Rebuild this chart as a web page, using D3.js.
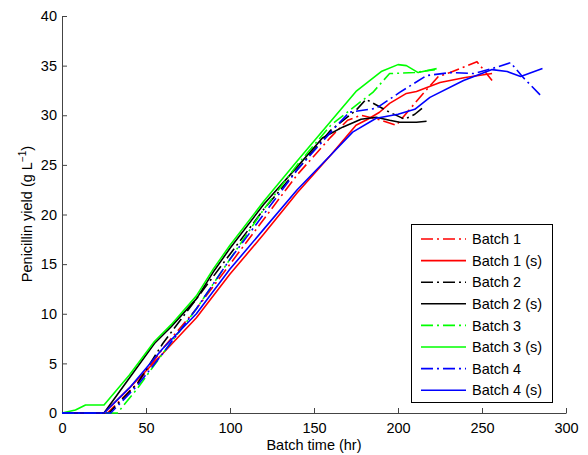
<!DOCTYPE html>
<html>
  <head>
    <meta charset="UTF-8">
    <title>Penicillin yield</title>
    <script src="https://d3js.org/d3.v7.min.js"></script>
    <style>
      body { margin: 0; background: #fff; }
      text { font-family: "Liberation Sans", Arial, Helvetica, sans-serif; }
    </style>
  </head>
  <body>
    <svg id="chart" width="588" height="455"></svg>
    <script>
      // [batch time (hr), yield (g/L)]
      const batch1 = [[0,0],[27,0],[45,3],[60,6.5],[80,10.5],[100,15],[120,19.5],[140,24],[160,27.8],[170,29.5],[178,30],[190,29.5],[199,29],[205,30.2],[215,32.2],[224,33.9],[231,34.3],[247,35.4],[256,33.5]];
      const batch1s = [[0,0],[25,0],[40,2.5],[60,6],[80,9.6],[100,14],[120,18],[140,22.2],[160,26],[175,29],[182,29.6],[189,30.3],[195,31.2],[205,32.2],[211,32.4],[225,33.3],[240,33.8],[256,34.2]];
      const batch2 = [[0,0],[28,0],[45,3],[60,7],[80,11.5],[100,16],[120,20.5],[140,24.5],[160,28.5],[175,30.5],[181,31.6],[195,30.3],[204,29.6],[210,30.1],[215,30.8]];
      const batch2s = [[0,0],[25,0],[40,3.5],[55,7],[65,8.7],[80,11.5],[90,14.2],[100,16.6],[120,21],[140,24.8],[155,27.7],[167,28.8],[178,29.6],[187,29.8],[195,29.5],[201,29.3],[211,29.3],[217,29.4]];
      const batch3 = [[0,0],[33,0],[45,2.5],[60,6],[80,10.5],[100,15.5],[120,20.5],[140,25],[160,29],[175,31],[185,32.3],[195,34.2],[210,34.3],[222,34.6]];
      const batch3s = [[0,0],[8,0.3],[14,0.8],[25,0.8],[40,3.8],[55,7.2],[65,8.9],[80,11.8],[90,14.5],[100,16.9],[120,21.3],[140,25.4],[160,29.4],[175,32.4],[190,34.4],[200,35.1],[205,35],[212,34.3],[223,34.7]];
      const batch4 = [[0,0],[29,0],[45,2.8],[60,6],[80,10.5],[100,15.5],[120,20],[140,24.5],[160,28.3],[171,30.3],[187,30.7],[201,32.3],[217,34],[231,34.3],[245,34.2],[256,34.7],[267,35.3],[274,33.9],[286,31.8]];
      const batch4s = [[0,0],[25,0],[40,2.5],[60,6.5],[80,10],[100,14.5],[120,18.5],[140,22.5],[160,26],[173,28.3],[187,29.7],[200,30.1],[210,30.6],[219,31.8],[239,33.5],[256,34.6],[265,34.4],[273,33.9],[286,34.7]];

      const seriesNames = ["Batch 1", "Batch 1 (s)", "Batch 2", "Batch 2 (s)", "Batch 3", "Batch 3 (s)", "Batch 4", "Batch 4 (s)"];
      const seriesData = [batch1, batch1s, batch2, batch2s, batch3, batch3s, batch4, batch4s];
      const seriesColors = ["#ff0000", "#ff0000", "#000000", "#000000", "#00ff00", "#00ff00", "#0000ff", "#0000ff"];
      const xTicks = [0, 50, 100, 150, 200, 250, 300];
      const yTicks = [0, 5, 10, 15, 20, 25, 30, 35, 40];

      const svg = d3.select("#chart");
      const x = d3.scaleLinear().domain([0, 300]).range([62, 566]);
      const y = d3.scaleLinear().domain([0, 40]).range([413, 16]);

      const dashDot = "12,4,2,4";

      // Axes (MATLAB style: ticks inside, no box)
      const xAxis = svg.append("g")
        .attr("transform", "translate(0,413)")
        .call(d3.axisBottom(x).tickValues(xTicks).tickSizeInner(-5).tickSizeOuter(0).tickPadding(10));
      const yAxis = svg.append("g")
        .attr("transform", "translate(62,0)")
        .call(d3.axisLeft(y).tickValues(yTicks).tickSizeInner(-5).tickSizeOuter(0).tickPadding(10));

      [xAxis, yAxis].forEach(g => {
        g.select(".domain").attr("stroke", "#444");
        g.selectAll(".tick line").attr("stroke", "#444");
        g.selectAll("text")
          .attr("fill", "#000")
          .style("font-size", "14.5px")
          .style("font-family", "'Liberation Sans', Arial, sans-serif");
      });
      yAxis.selectAll("text").attr("x", -5);

      // Lines
      const line = d3.line().x(d => x(d[0])).y(d => y(d[1]));
      const lineGroup = svg.append("g");
      seriesData.forEach((data, i) => {
        lineGroup.append("path")
          .datum(data)
          .attr("d", line)
          .attr("fill", "none")
          .attr("stroke", seriesColors[i])
          .attr("stroke-width", 1.6)
          .attr("stroke-linejoin", "round")
          .attr("stroke-dasharray", i % 2 === 0 ? dashDot : null);
      });

      // Axis labels
      svg.append("text")
        .attr("x", 314)
        .attr("y", 450)
        .attr("text-anchor", "middle")
        .style("font-size", "14.5px")
        .text("Batch time (hr)");

      const yLabel = svg.append("text")
        .attr("transform", "translate(32,214) rotate(-90)")
        .attr("text-anchor", "middle")
        .style("font-size", "14.5px");
      yLabel.append("tspan").text("Penicillin yield (g L");
      yLabel.append("tspan").attr("dy", -6).style("font-size", "10px").text("\u22121");
      yLabel.append("tspan").attr("dy", 6).text(")");

      // Legend
      const legend = svg.append("g");
      legend.append("rect")
        .attr("x", 411.5).attr("y", 224.5)
        .attr("width", 141).attr("height", 178)
        .attr("fill", "#fff").attr("stroke", "#000").attr("stroke-width", 1);
      seriesNames.forEach((name, i) => {
        const cy = 239 + i * 21.6;
        legend.append("line")
          .attr("x1", 421).attr("x2", 466)
          .attr("y1", cy).attr("y2", cy)
          .attr("stroke", seriesColors[i])
          .attr("stroke-width", 1.6)
          .attr("stroke-dasharray", i % 2 === 0 ? dashDot : null);
        legend.append("text")
          .attr("x", 472).attr("y", cy)
          .attr("dy", "0.36em")
          .style("font-size", "14.5px")
          .text(name);
      });
    </script>
  </body>
</html>
